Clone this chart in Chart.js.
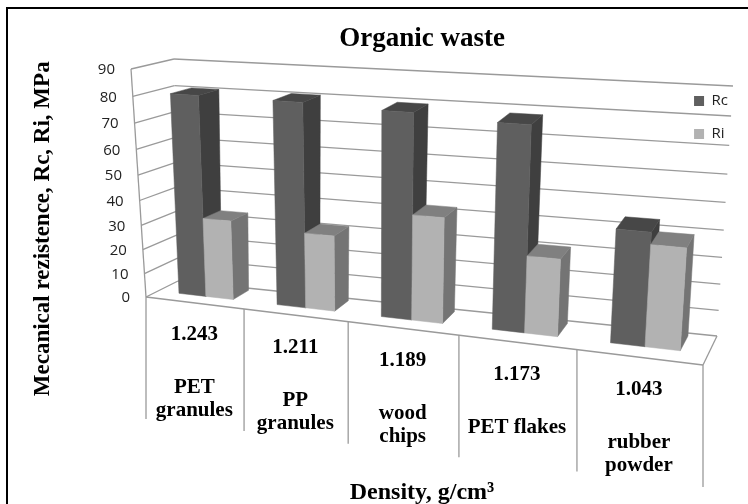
<!DOCTYPE html>
<html><head><meta charset="utf-8">
<style>html,body{margin:0;padding:0;background:#fff}#w{width:748px;height:504px}canvas{display:block}</style>
<script src="https://cdn.jsdelivr.net/npm/chart.js@4"></script></head>
<body><div id="w"><canvas id="c" width="748" height="504"></canvas></div>
<script>
const densities = ["1.243","1.211","1.189","1.173","1.043"];
const materials = [["PET","granules"],["PP","granules"],["wood","chips"],["PET flakes"],["rubber","powder"]];
const rcValues = [80,80,79,77.5,43];
const riValues = [32.5,30.5,41.5,30,38.5];
const axisTicks = [0,10,20,30,40,50,60,70,80,90];
const SERIF = '"Liberation Serif","Times New Roman",serif';
const SANS = '"Open Sans",sans-serif';

// Perspective box corners: [front/back][bottom/top][left/right]
const F = {bl:[146,297],br:[703,365],tl:[131,69],tr:[721,108]};
const B = {bl:[178,281],br:[717,336],tl:[174,59],tr:[733,86]};
const warp = (t,r)=>t/(t+r*(1-t));
function proj(u,v,w){
  const a=warp(u,1.17), b=warp(v,1.09);
  const mix=(c)=>{
    const f=(1-b)*((1-a)*F.bl[c]+a*F.br[c])+b*((1-a)*F.tl[c]+a*F.tr[c]);
    const k=(1-b)*((1-a)*B.bl[c]+a*B.br[c])+b*((1-a)*B.tl[c]+a*B.tr[c]);
    return f*(1-w)+k*w;
  };
  return [mix(0),mix(1)];
}
function poly(ctx,pts,fill){
  ctx.beginPath();pts.forEach((p,i)=>i?ctx.lineTo(p[0],p[1]):ctx.moveTo(p[0],p[1]));ctx.closePath();
  ctx.fillStyle=fill;ctx.fill();ctx.strokeStyle=fill;ctx.lineWidth=.5;ctx.stroke();
}
function seg(ctx,a,b){ctx.beginPath();ctx.moveTo(a[0],a[1]);ctx.lineTo(b[0],b[1]);ctx.stroke();}
const shades=[{top:'#474747',side:'#3f3f3f'},{top:'#808080',side:'#747474'}];
const W0=.38,W1=.9;

const box3d={
  id:'box3d',
  beforeDraw(chart){
    const {ctx}=chart;
    ctx.save();ctx.fillStyle='#000';
    ctx.fillRect(6,7,742,2);ctx.fillRect(6,7,2,497);
    ctx.restore();
  },
  beforeDatasetsDraw(chart){
    const {ctx,chartArea:ca,scales:{x,y}}=chart;
    const vOf=val=>(ca.bottom-y.getPixelForValue(val))/ca.height;
    ctx.save();
    ctx.strokeStyle='#9a9a9a';ctx.lineWidth=1.3;
    y.ticks.forEach(t=>{
      const v=vOf(t.value);
      seg(ctx,proj(0,v,0),proj(0,v,1));
      seg(ctx,proj(0,v,1),proj(1,v,1));
    });
    seg(ctx,proj(0,0,0),proj(0,1,0));
    seg(ctx,proj(0,0,0),proj(1,0,0));
    seg(ctx,proj(1,0,0),proj(1,0,1));
    const n=x.getLabels().length;
    for(let i=0;i<=n;i++){
      const p=proj(i/n,0,0);
      seg(ctx,p,[p[0],p[1]+122]);
    }
    ctx.fillStyle='#222';ctx.font='15px '+SANS;ctx.textAlign='right';ctx.textBaseline='middle';
    y.ticks.forEach(t=>{
      const p=proj(0,vOf(t.value),0);
      ctx.fillText(t.label,p[0]-16,p[1]+1);
    });
    ctx.fillStyle='#000';ctx.font='bold 21px '+SERIF;ctx.textAlign='center';
    x.getLabels().forEach((lab,i)=>{
      const p=proj((i+.5)/n,0,0);
      ctx.fillText(densities[i],p[0],p[1]+32);
      lab.forEach((line,j)=>ctx.fillText(line,p[0],p[1]+85+23*j));
    });
    x.getLabels().forEach((lab,i)=>{
      chart.data.datasets.forEach((ds,d)=>{
        const el=chart.getDatasetMeta(d).data[i];
        const u0=(el.x-el.width/2-ca.left)/ca.width,u1=(el.x+el.width/2-ca.left)/ca.width;
        const vt=(ca.bottom-el.y)/ca.height,vb=(ca.bottom-el.base)/ca.height;
        poly(ctx,[proj(u1,vb,W0),proj(u1,vb,W1),proj(u1,vt,W1),proj(u1,vt,W0)],shades[d].side);
        poly(ctx,[proj(u0,vt,W0),proj(u1,vt,W0),proj(u1,vt,W1),proj(u0,vt,W1)],shades[d].top);
        poly(ctx,[proj(u0,vb,W0),proj(u1,vb,W0),proj(u1,vt,W0),proj(u0,vt,W0)],ds.backgroundColor);
      });
    });
    ctx.restore();
    return false;
  }
};

new Chart(document.getElementById('c'),{
  type:'bar',
  data:{labels:materials,datasets:[
    {label:'Rc',data:rcValues,backgroundColor:'#5f5f5f'},
    {label:'Ri',data:riValues,backgroundColor:'#b2b2b2'}
  ]},
  plugins:[box3d],
  options:{
    responsive:false,animation:false,
    layout:{padding:{left:29,right:10,top:23,bottom:0}},
    datasets:{bar:{categoryPercentage:.56,barPercentage:1}},
    plugins:{
      tooltip:{enabled:false},
      title:{display:true,text:'Organic waste',fullSize:false,color:'#000',
        font:{family:SERIF,size:27,weight:'bold'},padding:{top:0,bottom:20}},
      legend:{position:'right',align:'start',fullSize:false,
        labels:{boxWidth:10,boxHeight:10,padding:18,color:'#222',font:{family:SANS,size:15}}}
    },
    scales:{
      x:{grid:{display:false},border:{display:false},ticks:{display:false},
        title:{display:true,text:'Density, g/cm³',color:'#000',font:{family:SERIF,size:24,weight:'bold'},padding:{top:88,bottom:-3}}},
      y:{min:0,max:90,grid:{display:false},border:{display:false},
        ticks:{display:false,stepSize:10},
        afterFit(s){s.width=139;},
        title:{display:true,text:'Mecanical rezistence, Rc, Ri, MPa',color:'#000',font:{family:SERIF,size:23,weight:'bold'},padding:{top:0,bottom:0}}}
    }
  }
});
</script></body></html>
